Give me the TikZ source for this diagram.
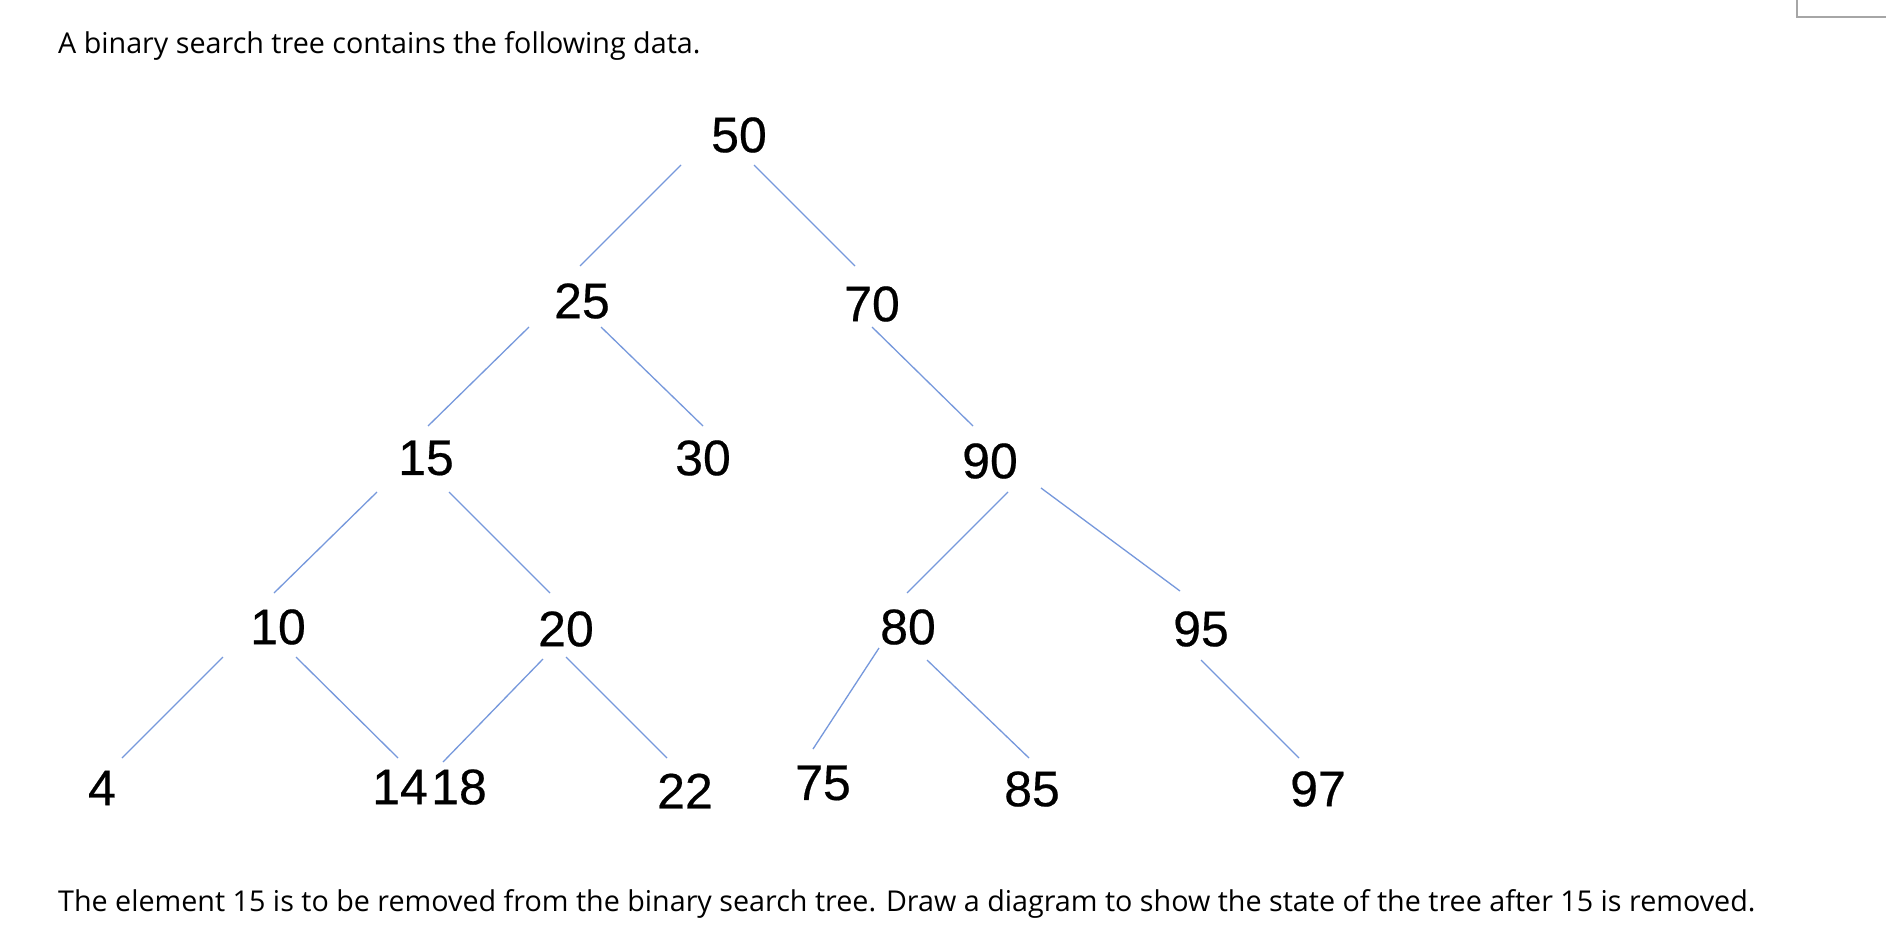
\documentclass[tikz,border=0pt]{standalone}
\usepackage{fontspec}
\setmainfont{Open Sans}
\newfontfamily\numfont[FakeBold=0.4]{Liberation Sans}
\usetikzlibrary{calc}
\definecolor{edgeblue}{RGB}{118,152,220}
\definecolor{boxgray}{RGB}{166,166,166}
\tikzset{
  num/.style={inner sep=0pt, font=\numfont\fontsize{50}{50}\selectfont},
  prose/.style={inner sep=0pt, anchor=base west, font=\fontsize{28.7}{34}\selectfont},
  edge/.style={draw=edgeblue, line width=1.3pt},
}
\begin{document}
\begin{tikzpicture}[x=1pt,y=-1pt]
\useasboundingbox (0,0) rectangle (1886,942);
\fill[white] (0,0) rectangle (1886,942);
\draw[boxgray, line width=1.7pt] (1797,-10) -- (1797,17) -- (1900,17);

\node[prose] (title) at (58,54) {A binary search tree contains the following data.};
\node[prose] (task) at (58,911) {The element 15 is to be removed from the binary search tree. Draw a diagram to show the state of the tree after 15 is removed.};

\node[num] (n50) at (739,135) {50};
\node[num] (n25) at (582,301) {25};
\node[num] (n70) at (872,304) {70};
\node[num] (n15) at (426,458) {15};
\node[num] (n30) at (703,458) {30};
\node[num] (n90) at (990,461) {90};
\node[num] (n10) at (278,627) {10};
\node[num] (n20) at (566,629) {20};
\node[num] (n80) at (908,627) {80};
\node[num] (n95) at (1201,629) {95};
\node[num] (n4) at (102,788) {4};
\node[num] (n14) at (400,787) {14};
\node[num] (n18) at (459,787) {18};
\node[num] (n22) at (685,791) {22};
\node[num] (n75) at (823,783) {75};
\node[num] (n85) at (1032,789) {85};
\node[num] (n97) at (1318,789) {97};

\draw[edge] ([shift={(-58,30)}]n50.center) -- ([shift={(-2,-35)}]n25.center);
\draw[edge] ([shift={(15,30)}]n50.center) -- ([shift={(-17,-38)}]n70.center);
\draw[edge] ([shift={(-53,26)}]n25.center) -- ([shift={(2,-32)}]n15.center);
\draw[edge] ([shift={(19,26)}]n25.center) -- ([shift={(0,-32)}]n30.center);
\draw[edge] ([shift={(0,23)}]n70.center) -- ([shift={(-17,-35)}]n90.center);
\draw[edge] ([shift={(-49,34)}]n15.center) -- ([shift={(-4,-34)}]n10.center);
\draw[edge] ([shift={(23,34)}]n15.center) -- ([shift={(-16,-36)}]n20.center);
\draw[edge] ([shift={(18,31)}]n90.center) -- ([shift={(-1,-34)}]n80.center);
\draw[edge] ([shift={(51,27)}]n90.center) -- ([shift={(-21,-38)}]n95.center);
\draw[edge] ([shift={(-55,30)}]n10.center) -- ([shift={(20,-30)}]n4.center);
\draw[edge] ([shift={(18,30)}]n10.center) -- ([shift={(-2,-29)}]n14.center);
\draw[edge] ([shift={(-23,30)}]n20.center) -- ([shift={(-16,-25)}]n18.center);
\draw[edge] ([shift={(0,28)}]n20.center) -- ([shift={(-18,-33)}]n22.center);
\draw[edge] ([shift={(-29,21)}]n80.center) -- ([shift={(-10,-34)}]n75.center);
\draw[edge] ([shift={(19,33)}]n80.center) -- ([shift={(-3,-31)}]n85.center);
\draw[edge] ([shift={(0,31)}]n95.center) -- ([shift={(-19,-31)}]n97.center);
\end{tikzpicture}
\end{document}
